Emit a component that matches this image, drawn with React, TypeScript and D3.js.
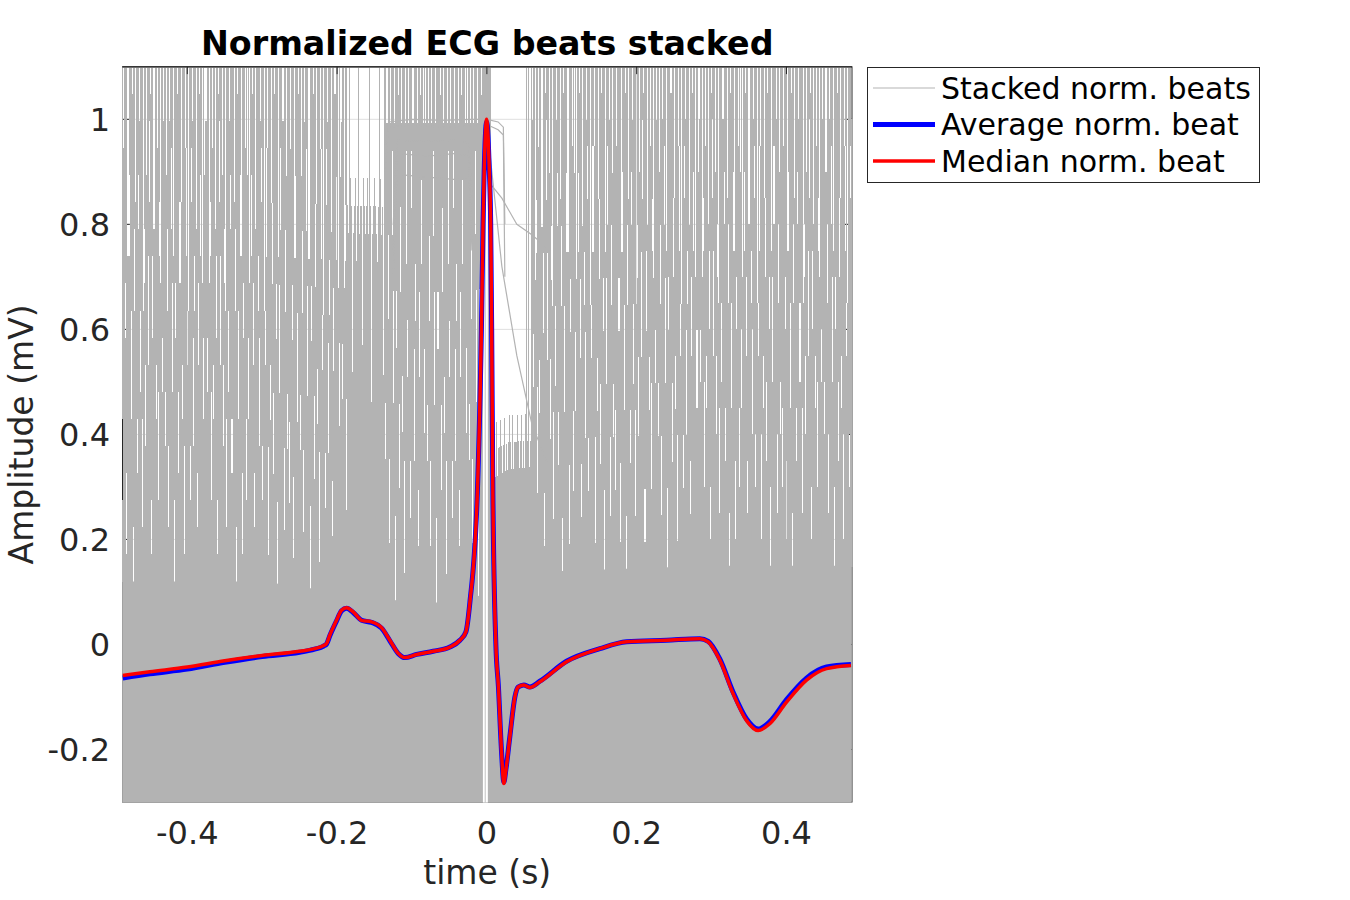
import React from "react";
import * as d3 from "d3";

// ---------- data ----------
const SAMPLE_RATE = 360; // Hz
const xDomain: [number, number] = [-0.4865, 0.4875];
const yDomain: [number, number] = [-0.3, 1.1];
const xTicks = [-0.4, -0.2, 0, 0.2, 0.4];
const yTicks = [-0.2, 0, 0.2, 0.4, 0.6, 0.8, 1];

const titleText = "Normalized ECG beats stacked";
const xLabelText = "time (s)";
const yLabelText = "Amplitude (mV)";
const legendLabels = ["Stacked norm. beats", "Average norm. beat", "Median norm. beat"];

// beat time axis (s)
const beatTime = [
  -0.4861, -0.45, -0.4, -0.35, -0.3, -0.25, -0.23, -0.218, -0.214, -0.2096, -0.2007, -0.194, -0.1873,
  -0.1785, -0.1673, -0.154, -0.1406, -0.1295, -0.1184, -0.1095, -0.0939, -0.0717, -0.0494, -0.036,
  -0.028, -0.0227, -0.0127, -0.0073, -0.0051, -0.0036, -0.0004, 0.0033, 0.0051, 0.0064, 0.008, 0.012,
  0.0154, 0.0194, 0.0227, 0.0254, 0.0307, 0.0374, 0.0418, 0.0494, 0.0574, 0.0708, 0.1064, 0.1509,
  0.1865, 0.2399, 0.2844, 0.2955, 0.3111, 0.3288, 0.3467, 0.3622, 0.3778, 0.4001, 0.4268, 0.4535, 0.4861,
];
const medianBeat = [
  -0.059, -0.052, -0.043, -0.031, -0.021, -0.013, -0.008, -0.002, 0.002, 0.018, 0.046, 0.065, 0.07,
  0.062, 0.046, 0.043, 0.032, 0.008, -0.017, -0.025, -0.019, -0.013, -0.005, 0.008,
  0.024, 0.08, 0.29, 0.6, 0.8, 0.9, 1.0, 0.9, 0.8, 0.6, 0.29, 0.0,
  -0.08, -0.2, -0.265, -0.24, -0.176, -0.1, -0.081, -0.077, -0.082, -0.071, -0.033, -0.008,
  0.005, 0.008, 0.011, 0.005, -0.03, -0.094, -0.145, -0.164, -0.151, -0.11, -0.068, -0.046, -0.04,
];
const averageBeat = [
  -0.064, -0.056, -0.047, -0.034, -0.023, -0.015, -0.009, -0.003, 0.001, 0.017, 0.045, 0.064, 0.069,
  0.061, 0.046, 0.042, 0.031, 0.007, -0.017, -0.025, -0.019, -0.013, -0.005, 0.008,
  0.024, 0.08, 0.29, 0.6, 0.8, 0.9, 0.995, 0.9, 0.8, 0.6, 0.29, 0.0,
  -0.08, -0.2, -0.262, -0.238, -0.175, -0.1, -0.081, -0.077, -0.081, -0.07, -0.032, -0.008,
  0.005, 0.008, 0.011, 0.006, -0.028, -0.091, -0.142, -0.161, -0.147, -0.105, -0.064, -0.043, -0.038,
];

// dense lower mass of the stacked beats (upper edge of the solid grey band)
const bandTime = [-0.487, -0.3, -0.2, -0.1, -0.03, 0.0, 0.03, 0.1, 0.3, 0.487];
const bandTop = [0.12, 0.12, 0.1, 0.08, 0.08, 0.1, 0.13, 0.14, 0.15, 0.15];

// Stacked-beat traces, one character per half-sample column: grey reaches from the
// band up to level `rise` and from the top down `fall` levels (0..J = 0..19 of the span);
// whatever lies between stays white.
const LEVELS = "0123456789ABCDEFGHIJ";
const riseN1 = "3GJ91CCJ6I0AEJ4DH7J2AB5FJ8EI19DJ6G3CBJ7H";
const fallN1 = "D008F04090H600D4090D06B00720G700B0C500A0";
const riseN2 = "J5FA2HJD7C09JI4BE6J1GC8AJ3EH5AJD28ICJB6F";
const fallN2 = "0C06E00380G800C50B0E03900E30A700F80400A0";
const riseN3 = "H7JBC3G6JD91IE8JF5BA2J7HD4JEA0I6JCC19JG3";
const fallN3 = "0A005C0B007G02700B60D0904D006H09040F800D";
const riseN4 = "F6BJCI82DJA5HE3JA8CG1J6EB4IJ90C7DJH2AF5J";
const fallN4 = "0A00408F007A03E00930E0B05C008G08300E60C0";
// flat-topped beats before the R peak: open only above ~1.0
const riseFlat = "J5HA2HJD7H09JI4BH6J1HC8HJ3EH5AJH28ICJH6H";
const fallFlat = "0C06E00380G800C50B0E03900E30A700F80400A0";

// regions in half-sample units (1 unit = 1/720 s)
const regionStart = [-350, -180, -134, -98, -4, 4, 44];
const regionEnd = [-181, -135, -99, -5, 3, 43, 351];
const regionRise = [
  riseN1 + riseN2 + riseN3 + riseN4 + "3GJ91CCJ6I",
  riseN2 + "H7JBC3",
  "EDJFE8DEFCEJDE9FEDEFDJE7DEFEDCEJFDE8",
  riseFlat + riseFlat + "J5HA2HJD7H09JI",
  "00000000",
  "4545464556545645456546455654564546J5J45J",
  riseN3 + riseN4 + riseN1 + riseN2 + riseN3 + riseN4 + riseN1 + "J5FA2HJD7C09JI4BE6J1GC8AJ3EH",
];
const regionFall = [
  fallN1 + fallN2 + fallN3 + fallN4 + "D008F04090",
  fallN2 + "0A005C",
  "000000000000000000000000000000000000",
  fallFlat + fallFlat + "0C06E00380G800",
  "JJJJJJJJ",
  "0000000000000000000000000000000000000000",
  fallN3 + fallN4 + fallN1 + fallN2 + fallN3 + fallN4 + fallN1 + "0C06E00380G800C50B0E03900E30",
];

// beats with a clipped (flat) top near the R peak
const flatTime = [-0.136, -0.131, -0.1, -0.06, -0.02, 0.0, 0.015, 0.022, 0.024];
const flatBeatA = [0.9, 0.995, 1.0, 0.998, 1.0, 1.0, 0.995, 0.985, 0.8];
const flatBeatB = [0.95, 0.985, 0.99, 0.985, 0.988, 0.99, 0.98, 0.97, 0.7];
const shelfTime = [-0.125, -0.12, -0.08, -0.04, -0.024, -0.02];
const shelfBeatA = [0.8, 0.96, 0.958, 0.96, 0.955, 0.85];
const shelfBeatB = [0.75, 0.895, 0.89, 0.885, 0.89, 0.8];
const shelfBeatC = [0.7, 0.935, 0.93, 0.935, 0.93, 0.75];
const decayTime = [0.003, 0.02, 0.04, 0.06, 0.085];
const decayBeatA = [0.88, 0.85, 0.8, 0.78, 0.75];
const decayBeatB = [0.95, 0.72, 0.55, 0.42, 0.33];

// empty slot at the R instant (no beat sits in the band there)
const gapTime = [-0.0053, 0.0013];
const gapRange = [-0.3, 0.95];
const gapBeatTime = -0.0022;

// ---------- layout ----------
const W = 1350;
const H = 900;
const PL = 122.5;
const PR = 852;
const PT = 66.8;
const PB = 802;
const GREY = "#b3b3b3";
const AX = "#262626";
const FONT = "'DejaVu Sans', 'Liberation Sans', sans-serif";

export default function App() {
  const x = d3.scaleLinear().domain(xDomain).range([PL, PR]);
  const y = d3.scaleLinear().domain(yDomain).range([PB, PT]);
  const bandAt = d3.scaleLinear().domain(bandTime).range(bandTop).clamp(true);

  const line = d3
    .line<[number, number]>()
    .x((d) => x(d[0]))
    .y((d) => y(d[1]))
    .curve(d3.curveMonotoneX);
  const straight = d3
    .line<[number, number]>()
    .x((d) => x(d[0]))
    .y((d) => y(d[1]));

  const bandArea = d3
    .area<[number, number]>()
    .x((d) => x(d[0]))
    .y0(PB + 3)
    .y1((d) => y(d[1]));

  const half = 1 / (2 * SAMPLE_RATE);
  const TOPL = LEVELS.length - 1;
  const cols: { x0: number; x1: number; y0: number; y1: number }[] = [];
  regionStart.forEach((start, ri) => {
    const rs = regionRise[ri];
    const fs = regionFall[ri];
    for (let u = start; u <= regionEnd[ri]; u++) {
      const k = u - start;
      const r = LEVELS.indexOf(rs[k % rs.length]);
      const f = LEVELS.indexOf(fs[k % fs.length]);
      const t = u * half;
      const x0 = Math.round(x(t - half / 2));
      const x1 = Math.round(x(t + half / 2));
      if (x1 <= x0) continue;
      const bt = bandAt(t);
      const lv = (n: number) => bt + ((yDomain[1] - bt) * n) / TOPL;
      const top = PT - 3;
      const bot = y(bt) + 1;
      if (r >= TOPL || f >= TOPL || r + f >= TOPL) {
        cols.push({ x0, x1, y0: top, y1: bot });
      } else {
        if (r > 0) cols.push({ x0, x1, y0: y(lv(r)), y1: bot });
        if (f > 0) cols.push({ x0, x1, y0: top, y1: y(lv(TOPL - f)) });
      }
    }
  });

  const zip = (t: number[], v: number[]) => t.map((tt, i) => [tt, v[i]] as [number, number]);
  const outliers = [
    zip(flatTime, flatBeatA),
    zip(flatTime, flatBeatB),
    zip(shelfTime, shelfBeatA),
    zip(shelfTime, shelfBeatB),
    zip(shelfTime, shelfBeatC),
    zip(decayTime, decayBeatA),
    zip(decayTime, decayBeatB),
  ];

  const tickLen = 7.35;
  const fmt = (v: number) => (v === 0 ? "0" : String(v));

  return (
    <div style={{ position: "fixed", left: 0, top: 0, width: W, height: H, background: "#fff" }}>
      <svg width={W} height={H} viewBox={`0 0 ${W} ${H}`} style={{ display: "block" }}>
        <defs>
          <clipPath id="plotClip">
            <rect x={PL - 0.5} y={PT + 0.5} width={PR - PL + 1} height={PB - PT} />
          </clipPath>
        </defs>
        <rect x={0} y={0} width={W} height={H} fill="#fff" />

        {/* grid */}
        {yTicks.map((v) => (
          <line key={"gy" + v} x1={PL} x2={PR} y1={y(v)} y2={y(v)} stroke="#dfdfdf" strokeWidth={1} />
        ))}
        {xTicks.map((v) => (
          <line key={"gx" + v} x1={x(v)} x2={x(v)} y1={PT} y2={PB} stroke="#dfdfdf" strokeWidth={1} />
        ))}

        {/* box and ticks (beneath the data) */}
        <rect x={PL} y={PT} width={PR - PL} height={PB - PT} fill="none" stroke={AX} strokeWidth={1} />
        {xTicks.map((v) => (
          <line key={"tb" + v} x1={x(v)} x2={x(v)} y1={PB} y2={PB - tickLen} stroke={AX} strokeWidth={1} />
        ))}
        {yTicks.map((v) => (
          <g key={"ty" + v}>
            <line x1={PL} x2={PL + tickLen} y1={y(v)} y2={y(v)} stroke={AX} strokeWidth={1} />
            <line x1={PR} x2={PR - tickLen} y1={y(v)} y2={y(v)} stroke={AX} strokeWidth={1} />
          </g>
        ))}

        {/* stacked beats */}
        <g clipPath="url(#plotClip)">
          <path d={bandArea(zip(bandTime, bandTop)) || ""} fill={GREY} />
          <g shapeRendering="crispEdges">
            {cols.map((c, i) => (
              <rect key={i} x={c.x0} y={c.y0} width={c.x1 - c.x0} height={Math.max(0, c.y1 - c.y0)} fill={GREY} />
            ))}
          </g>
          {outliers.map((pts, i) => (
            <path key={"o" + i} d={straight(pts) || ""} fill="none" stroke={GREY} strokeWidth={1.2} />
          ))}
          <rect
            x={x(gapTime[0])}
            y={y(gapRange[1])}
            width={x(gapTime[1]) - x(gapTime[0])}
            height={y(gapRange[0]) - y(gapRange[1]) + 3}
            fill="#fff"
          />
          <line x1={x(gapBeatTime)} x2={x(gapBeatTime)} y1={y(gapRange[1])} y2={PB + 3} stroke={GREY} strokeWidth={0.8} />

          {/* average and median */}
          <path d={line(zip(beatTime, averageBeat)) || ""} fill="none" stroke="#0000ff" strokeWidth={5} strokeLinejoin="round" />
          <path d={line(zip(beatTime, medianBeat)) || ""} fill="none" stroke="#ff0000" strokeWidth={3.5} strokeLinejoin="round" />
        </g>

        {/* top border and top ticks over the data */}
        <line x1={PL} x2={PR} y1={PT} y2={PT} stroke={AX} strokeWidth={1.2} />
        {xTicks.map((v) => (
          <line key={"tt" + v} x1={x(v)} x2={x(v)} y1={PT} y2={PT + tickLen} stroke={AX} strokeWidth={1} />
        ))}

        {/* tick labels */}
        {xTicks.map((v) => (
          <text key={"xl" + v} x={x(v)} y={844} textAnchor="middle" fontFamily={FONT} fontSize={32} fill={AX}>
            {fmt(v)}
          </text>
        ))}
        {yTicks.map((v) => (
          <text key={"yl" + v} x={110} y={y(v) + 11.5} textAnchor="end" fontFamily={FONT} fontSize={32} fill={AX}>
            {fmt(v)}
          </text>
        ))}

        {/* labels and title */}
        <text x={(PL + PR) / 2} y={884} textAnchor="middle" fontFamily={FONT} fontSize={33} fill={AX}>
          {xLabelText}
        </text>
        <text
          transform={`translate(33, ${(PT + PB) / 2}) rotate(-90)`}
          textAnchor="middle"
          fontFamily={FONT}
          fontSize={33}
          fill={AX}
        >
          {yLabelText}
        </text>
        <text x={(PL + PR) / 2} y={55} textAnchor="middle" fontFamily={FONT} fontSize={33.3} fontWeight="bold" fill="#000">
          {titleText}
        </text>

        {/* legend */}
        <g>
          <rect x={867.5} y={67.5} width={392} height={115} fill="#fff" stroke={AX} strokeWidth={1} />
          {legendLabels.map((lab, i) => {
            const cy = 88 + i * 36.5;
            const stroke = i === 0 ? GREY : i === 1 ? "#0000ff" : "#ff0000";
            const sw = i === 0 ? 1 : i === 1 ? 5 : 3.5;
            return (
              <g key={lab}>
                <line x1={873} x2={935} y1={cy} y2={cy} stroke={stroke} strokeWidth={sw} />
                <text x={941} y={cy + 10.8} fontFamily={FONT} fontSize={30} fill="#000">
                  {lab}
                </text>
              </g>
            );
          })}
        </g>
      </svg>
    </div>
  );
}
